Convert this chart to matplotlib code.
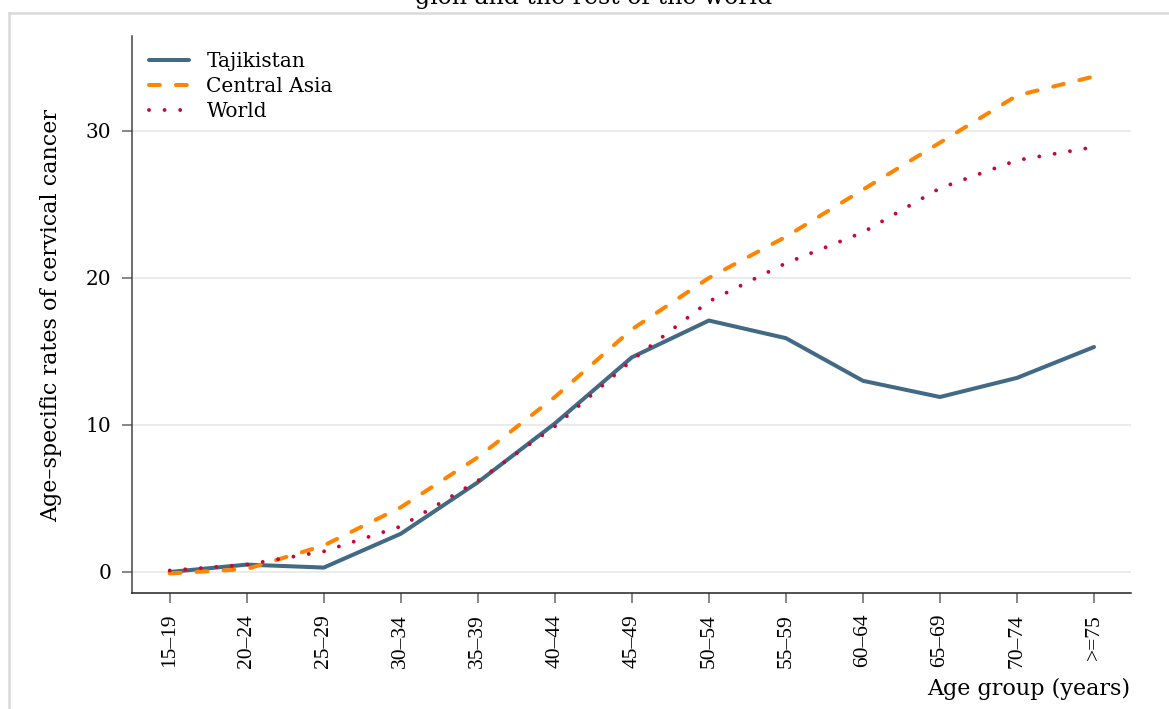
import matplotlib
matplotlib.use("Agg")
import matplotlib.pyplot as plt
from matplotlib.lines import Line2D

# age groups and age-specific rates (per 100,000)
age_groups = ["15–19", "20–24", "25–29", "30–34", "35–39", "40–44", "45–49",
              "50–54", "55–59", "60–64", "65–69", "70–74", ">=75"]
tajikistan = [0.0, 0.5, 0.3, 2.6, 6.1, 10.1, 14.6, 17.1, 15.9, 13.0, 11.9, 13.2, 15.3]
central_asia = [-0.1, 0.2, 1.8, 4.4, 7.8, 11.9, 16.5, 20.0, 22.8, 26.0, 29.2, 32.4, 33.7]
world = [0.1, 0.5, 1.4, 3.1, 6.2, 9.9, 14.4, 18.4, 21.0, 23.1, 26.1, 28.0, 28.9]
y_ticks = [0, 10, 20, 30]

SERIF = "DejaVu Serif"
TICK_FONT = "Liberation Serif"


def main():
    plt.rcParams["lines.scale_dashes"] = False
    fig = plt.figure(figsize=(11.69, 7.09), dpi=100)
    ax = fig.add_axes([132 / 1169, 1 - 593 / 709, (1131 - 132) / 1169, (593 - 36) / 709])

    x = list(range(len(age_groups)))
    ax.plot(x, tajikistan, color="#426a84", lw=2.9, solid_capstyle="round",
            solid_joinstyle="round", label="Tajikistan", zorder=3)
    ax.plot(x, central_asia, color="#ff8500", lw=2.9, dashes=(7.8, 11.6),
            dash_capstyle="round", label="Central Asia", zorder=4)
    ax.plot(x, world, color="#c8063a", lw=2.8, dashes=(0.01, 11.2),
            dash_capstyle="round", label="World", zorder=5)

    ax.set_xlim(-0.49, 12.48)
    ax.set_ylim(-1.43, 36.45)
    ax.set_xticks(x)
    ax.set_xticklabels(age_groups, rotation=90, fontsize=15.5, family=TICK_FONT)
    ax.set_yticks(y_ticks)
    ax.set_yticklabels([str(v) for v in y_ticks], fontsize=14.5, family=SERIF)
    ax.tick_params(axis="both", length=7, width=1.1, color="#666666", pad=8)

    ax.grid(axis="y", color="#e6e6e6", lw=1.1)
    ax.set_axisbelow(True)
    ax.spines["top"].set_visible(False)
    ax.spines["right"].set_visible(False)
    ax.spines["left"].set_color("#444444")
    ax.spines["bottom"].set_color("#222222")
    ax.spines["left"].set_linewidth(1.1)
    ax.spines["bottom"].set_linewidth(1.1)

    fig.text(51 / 1169, 1 - 315 / 709, "Age–specific rates of cervical cancer",
             rotation=90, ha="center", va="center", fontsize=16, family=SERIF)
    fig.text(1130 / 1169, 1 - 695 / 709, "Age group (years)", ha="right",
             va="baseline", fontsize=16, family=SERIF)

    # title is cut off at the top of the image, as in the source
    fig.text(594 / 1169, 1 - 4 / 709, "gion and the rest of the world",
             ha="center", va="baseline", fontsize=17, family=SERIF)

    # light grey outer frame
    fig.add_artist(Line2D([9 / 1169, 9 / 1169], [0, 1 - 13 / 709],
                          transform=fig.transFigure, color="#d9d9d9", lw=1.8))
    fig.add_artist(Line2D([9 / 1169, 1], [1 - 13 / 709, 1 - 13 / 709],
                          transform=fig.transFigure, color="#d9d9d9", lw=1.8))

    ax.legend(loc="upper left", bbox_to_anchor=(149 / 1169, 1 - 52 / 709),
              bbox_transform=fig.transFigure, frameon=False,
              prop={"family": SERIF, "size": 14.5}, handlelength=2.0,
              handletextpad=0.85, labelspacing=0.3, borderpad=0, borderaxespad=0)

    fig.savefig("out.png", dpi=100)


if __name__ == "__main__":
    main()
